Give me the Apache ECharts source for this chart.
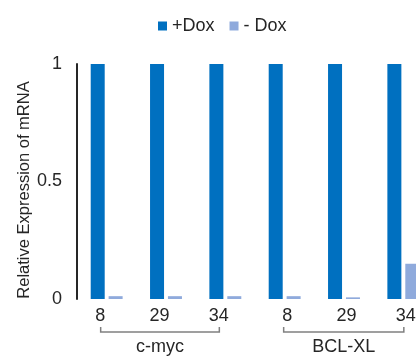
<!DOCTYPE html>
<html><head><meta charset="utf-8">
<script src="https://cdn.jsdelivr.net/npm/echarts@6/dist/echarts.min.js"></script>
<style>html,body{margin:0;padding:0;background:#fff}#c{width:416px;height:356px}</style>
</head><body><div id="c"></div>
<script>
const timePoints = ['8', '29', '34', '8', '29', '34'];
const genes = ['c-myc', 'c-myc', 'c-myc', 'BCL-XL', 'BCL-XL', 'BCL-XL'];
const groupNames = ['c-myc', 'BCL-XL'];
const plusDox = [1, 1, 1, 1, 1, 1];
const minusDox = [0.012, 0.012, 0.012, 0.012, 0.007, 0.15];
const yTicks = [0, 0.5, 1];

const categories = timePoints.map((t, i) => genes[i] + ' ' + t);
const FONT = 'Liberation Sans';
const TXT = '#262626';

const chart = echarts.init(document.getElementById('c'), null, {renderer: 'canvas'});
const option = {
  animation: false,
  textStyle: {fontFamily: FONT},
  legend: {
    left: 158, top: 17, padding: 0,
    itemWidth: 9, itemHeight: 9, itemGap: 15,
    icon: 'rect',
    textStyle: {fontFamily: FONT, fontSize: 18, color: TXT},
    data: ['+Dox', '- Dox']
  },
  grid: {left: 77, top: 64, height: 235, width: 356, outerBoundsMode: 'none'},
  xAxis: {
    type: 'category',
    data: categories,
    axisLine: {show: false},
    axisTick: {show: false},
    axisLabel: {
      interval: 0,
      margin: 8,
      fontSize: 18,
      color: TXT,
      formatter: (v, i) => (genes[i] === groupNames[0] ? '{l|' : '{r|') + timePoints[i] + '}',
      rich: {
        l: {fontSize: 18, fontFamily: FONT, color: TXT, padding: [0, 13, 0, 0]},
        r: {fontSize: 18, fontFamily: FONT, color: TXT, padding: [0, 0, 0, 5]}
      }
    }
  },
  yAxis: {
    type: 'value',
    min: yTicks[0], max: yTicks[yTicks.length - 1], interval: 0.5,
    name: 'Relative Expression of mRNA',
    nameLocation: 'middle',
    nameGap: 44,
    nameMoveOverlap: false,
    nameTextStyle: {fontSize: 16.5, color: TXT, fontFamily: FONT, padding: [0, 17, 0, 0]},
    axisLine: {show: true, lineStyle: {color: '#262626', width: 2}},
    axisTick: {show: false},
    splitLine: {show: false},
    axisLabel: {fontSize: 18, color: TXT, margin: 15, formatter: v => String(v)}
  },
  series: [
    {name: '+Dox', type: 'bar', data: plusDox, barWidth: 14, barGap: '28%',
     itemStyle: {color: '#0070C0'}},
    {name: '- Dox', type: 'bar', data: minusDox, barWidth: 14,
     itemStyle: {color: '#8FAADC'}}
  ]
};
chart.setOption(option);

// group brackets and group labels (decoration)
const groupOffsets = {'c-myc': [-6, -6], 'BCL-XL': [-1, 0.5]};
const graphics = [];
groupNames.forEach(g => {
  const idx = genes.map((x, i) => x === g ? i : -1).filter(i => i >= 0);
  const x0 = chart.convertToPixel({xAxisIndex: 0}, categories[idx[0]]) + groupOffsets[g][0];
  const x1 = chart.convertToPixel({xAxisIndex: 0}, categories[idx[idx.length - 1]]) + groupOffsets[g][1];
  graphics.push({
    type: 'polyline',
    shape: {points: [[x0, 327], [x0, 332], [x1, 332], [x1, 327]]},
    style: {stroke: '#808080', lineWidth: 1.5, fill: null}
  });
  graphics.push({
    type: 'text', x: (x0 + x1) / 2, y: 347,
    style: {text: g, fontSize: 18, fontFamily: FONT, fill: TXT, align: 'center', verticalAlign: 'middle'}
  });
});
chart.setOption({graphic: graphics});
</script></body></html>
